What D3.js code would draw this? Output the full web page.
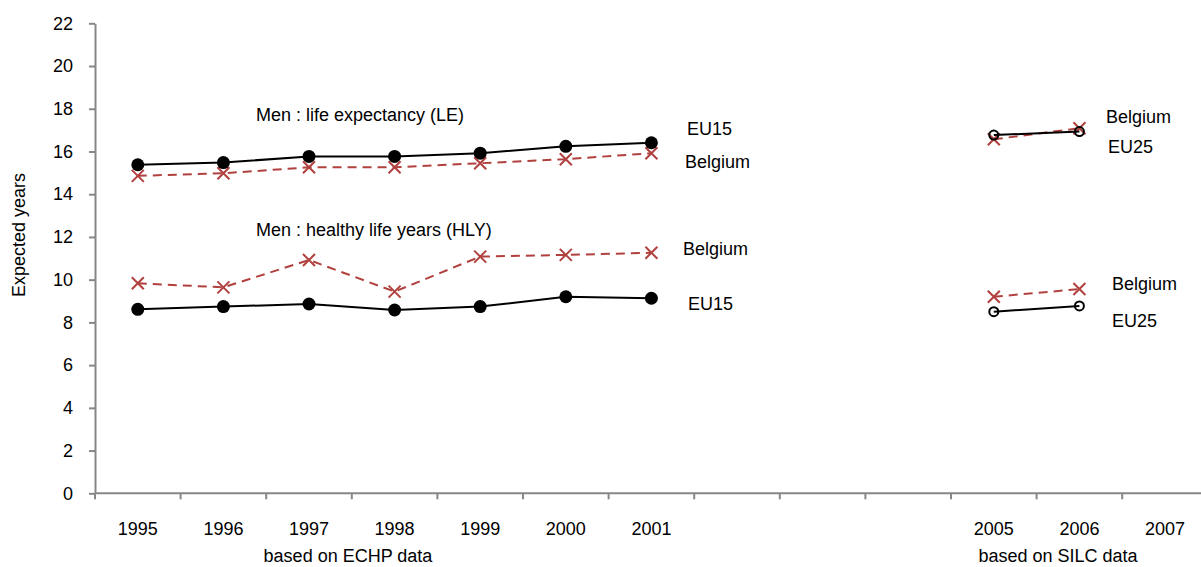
<!DOCTYPE html>
<html>
<head>
<meta charset="utf-8">
<title>Healthy life years - Men</title>
<script src="https://d3js.org/d3.v7.min.js"></script>
<style>
	body { margin: 0; background: #fff; }
	text { font-family: "Liberation Sans Narrow", "Arial Narrow", "Liberation Sans", Arial, sans-serif; fill: #000; }
	.axis path, .axis line { stroke: #878787; stroke-width: 2; }
</style>
</head>
<body>
<svg id="chart" width="1201" height="567"></svg>
<script>
// categories on the x axis (2002-2004 have no data)
var years = ["1995", "1996", "1997", "1998", "1999", "2000", "2001", "2002", "2003", "2004", "2005", "2006", "2007"];
var yearLabels = ["1995", "1996", "1997", "1998", "1999", "2000", "2001", "", "", "", "2005", "2006", "2007"];
var yTicks = [0, 2, 4, 6, 8, 10, 12, 14, 16, 18, 20, 22];

// ECHP period
var echpYears = ["1995", "1996", "1997", "1998", "1999", "2000", "2001"];
var leEU15 = [15.38, 15.48, 15.77, 15.77, 15.92, 16.24, 16.41];
var leBelgiumEchp = [14.86, 14.98, 15.26, 15.26, 15.45, 15.64, 15.92];
var hlyEU15 = [8.61, 8.74, 8.86, 8.58, 8.74, 9.2, 9.13];
var hlyBelgiumEchp = [9.83, 9.64, 10.92, 9.44, 11.08, 11.16, 11.26];

// SILC period
var silcYears = ["2005", "2006"];
var leEU25 = [16.77, 16.93];
var leBelgiumSilc = [16.57, 17.09];
var hlyEU25 = [8.5, 8.77];
var hlyBelgiumSilc = [9.2, 9.56];

var svg = d3.select("#chart");
var plotLeft = 95, plotBottom = 493.3, plotTop = 23.3;
var bandW = 85.6;
var fs = "18px";

var x = d3.scaleBand().domain(years).range([plotLeft, plotLeft + bandW * years.length]).padding(0);
var y = d3.scaleLinear().domain([0, 22]).range([plotBottom, plotTop]);
var cx = function(d) { return x(d) + x.bandwidth() / 2; };

var red = "#b0413e";

// y axis
var yAxis = svg.append("g").attr("class", "axis")
	.attr("transform", "translate(" + plotLeft + ",0)")
	.call(d3.axisLeft(y).tickValues(yTicks).tickSize(6).tickSizeOuter(0).tickPadding(16));
yAxis.selectAll("text").style("font-size", fs);

// x axis: labels in band centres, ticks at band boundaries
var xAxis = svg.append("g").attr("class", "axis")
	.attr("transform", "translate(0," + plotBottom + ")")
	.call(d3.axisBottom(x).tickSize(0).tickSizeOuter(0).tickPadding(29)
		.tickFormat(function(d, i) { return yearLabels[i]; }));
xAxis.select(".domain").attr("d", "M" + plotLeft + ",0H1201");
xAxis.selectAll("text").style("font-size", fs);
xAxis.selectAll(".boundary")
	.data(years)
	.enter().append("line")
	.attr("x1", function(d) { return x(d); })
	.attr("x2", function(d) { return x(d); })
	.attr("y1", 0).attr("y2", 6);

svg.append("text")
	.attr("transform", "translate(25,235) rotate(-90)")
	.attr("text-anchor", "middle")
	.style("font-size", fs)
	.text("Expected years");

// draw one series
function drawSeries(cats, vals, color, dashed, marker) {
	var pts = cats.map(function(c, i) { return [cx(c), y(vals[i])]; });
	svg.append("path")
		.attr("d", d3.line()(pts))
		.attr("fill", "none")
		.attr("stroke", color)
		.attr("stroke-width", 2)
		.attr("stroke-dasharray", dashed ? "9,6" : null);
	var g = svg.append("g");
	pts.forEach(function(p) {
		if (marker == "cross") {
			var s = 6;
			g.append("path")
				.attr("d", "M" + (p[0] - s) + "," + (p[1] - s) + "L" + (p[0] + s) + "," + (p[1] + s) +
					"M" + (p[0] - s) + "," + (p[1] + s) + "L" + (p[0] + s) + "," + (p[1] - s))
				.attr("stroke", color).attr("stroke-width", 2);
		} else if (marker == "dot") {
			g.append("circle").attr("cx", p[0]).attr("cy", p[1]).attr("r", 6.5).attr("fill", color);
		} else {
			g.append("circle").attr("cx", p[0]).attr("cy", p[1]).attr("r", 4.5)
				.attr("fill", "none").attr("stroke", color).attr("stroke-width", 2);
		}
	});
}

drawSeries(echpYears, leBelgiumEchp, red, true, "cross");
drawSeries(echpYears, leEU15, "#000", false, "dot");
drawSeries(echpYears, hlyBelgiumEchp, red, true, "cross");
drawSeries(echpYears, hlyEU15, "#000", false, "dot");
drawSeries(silcYears, leBelgiumSilc, red, true, "cross");
drawSeries(silcYears, leEU25, "#000", false, "circle");
drawSeries(silcYears, hlyBelgiumSilc, red, true, "cross");
drawSeries(silcYears, hlyEU25, "#000", false, "circle");

// annotations
var notes = [
	{ t: "Men : life expectancy (LE)", x: 256, y: 121 },
	{ t: "Men : healthy life years (HLY)", x: 256, y: 236 },
	{ t: "EU15", x: 687, y: 135 },
	{ t: "Belgium", x: 685, y: 168 },
	{ t: "Belgium", x: 683, y: 255 },
	{ t: "EU15", x: 688, y: 310 },
	{ t: "Belgium", x: 1106, y: 123 },
	{ t: "EU25", x: 1108, y: 153 },
	{ t: "Belgium", x: 1112, y: 290 },
	{ t: "EU25", x: 1112, y: 327 }
];
svg.selectAll(".note")
	.data(notes)
	.enter().append("text")
	.attr("x", function(d) { return d.x; })
	.attr("y", function(d) { return d.y; })
	.style("font-size", fs)
	.text(function(d) { return d.t; });

svg.append("text").attr("x", 348).attr("y", 562).attr("text-anchor", "middle")
	.style("font-size", fs).text("based on ECHP data");
svg.append("text").attr("x", 1058).attr("y", 562).attr("text-anchor", "middle")
	.style("font-size", fs).text("based on SILC data");
</script>
</body>
</html>
